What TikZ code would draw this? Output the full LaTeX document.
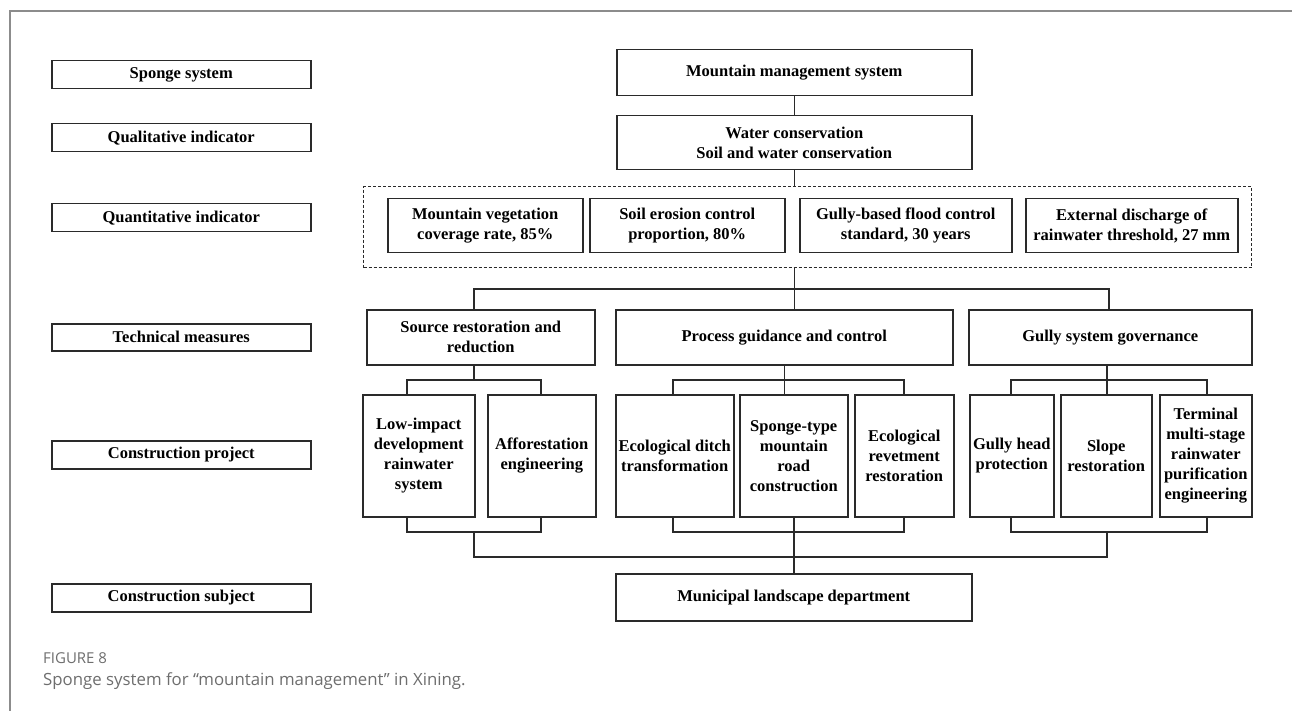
\documentclass[tikz,border=0pt]{standalone}
\usepackage{fontspec}
\setmainfont{Liberation Serif}
\newfontfamily\capfont{Open Sans}
\definecolor{linecol}{HTML}{2A2A2A}
\definecolor{framecol}{HTML}{8C8C8C}
\definecolor{capcol}{HTML}{6E6E6E}
\tikzset{
  box/.style={draw=linecol, line width=1.5pt, rectangle, inner sep=0pt, align=center,
    font=\fontsize{16.5}{20}\selectfont\bfseries, text=black},
  conn/.style={draw=linecol, line width=1.5pt},
  dashbox/.style={draw=linecol, line width=1.3pt, dash pattern=on 3pt off 2pt}
}
\newcommand{\mybox}[6]{\node[box,anchor=north west,minimum width={(#4-#2)*1pt},minimum height={(#5-#3)*1pt}] (#1) at (#2,#3) {#6};}
\begin{document}
\begin{tikzpicture}[x=1pt,y=-1pt]
\useasboundingbox (0,0) rectangle (1292,711);
\fill[white] (0,0) rectangle (1292,711);
% frame
\draw[framecol, line width=1.5pt] (10,711) -- (10,11) -- (1292,11);

% left labels
\mybox{L1}{51}{60}{310}{88}{Sponge system}
\mybox{L2}{51}{123}{310}{151}{Qualitative indicator}
\mybox{L3}{51}{203}{310}{231}{Quantitative indicator}
\mybox{L4}{51}{323}{310}{350}{Technical measures}
\mybox{L5}{51}{440}{310}{468}{Construction project}
\mybox{L6}{51}{583}{310}{611}{Construction subject}

% top
\mybox{mms}{616}{49}{971}{95}{Mountain management system}
\mybox{water}{616}{115}{971}{169}{Water conservation\\Soil and water conservation}

% quantitative indicators
\node[dashbox, rectangle, anchor=north west, minimum width=888pt, minimum height=81pt, inner sep=0pt] (qbox) at (363,186) {};
\mybox{q1}{387}{198}{582}{252}{Mountain vegetation\\coverage rate, 85\%}
\mybox{q2}{589}{198}{784}{252}{Soil erosion control\\proportion, 80\%}
\mybox{q3}{799}{198}{1011}{252}{Gully-based flood control\\standard, 30 years}
\mybox{q4}{1025}{198}{1237}{252}{External discharge of\\rainwater threshold, 27 mm}

% technical measures
\mybox{t1}{366}{309}{594}{364}{Source restoration and\\reduction}
\mybox{t2}{615}{309}{952}{364}{Process guidance and control}
\mybox{t3}{968}{309}{1251}{364}{Gully system governance}

% construction projects
\mybox{c1}{362}{394}{474}{516}{Low-impact\\development\\rainwater\\system}
\mybox{c2}{487}{394}{595}{516}{Afforestation\\engineering}
\mybox{c3}{615}{394}{733}{516}{Ecological ditch\\transformation}
\mybox{c4}{739}{394}{847}{516}{Sponge-type\\mountain\\road\\construction}
\mybox{c5}{854}{394}{953}{516}{Ecological\\revetment\\restoration}
\mybox{c6}{969}{394}{1053}{516}{Gully head\\protection}
\mybox{c7}{1060}{394}{1151}{516}{Slope\\restoration}
\mybox{c8}{1159}{394}{1251}{516}{Terminal\\multi-stage\\rainwater\\purification\\engineering}

% construction subject
\mybox{mun}{615}{573}{971}{620}{Municipal landscape department}

% coordinates
\coordinate (tl) at (474,289);
\coordinate (tm) at (793.5,289);
\coordinate (tr) at (1109,289);
\coordinate (sa) at (407,380);
\coordinate (sb) at (541,380);
\coordinate (pa) at (673,380);
\coordinate (pb) at (904,380);
\coordinate (ga) at (1011,380);
\coordinate (gb) at (1207,380);
\coordinate (ba) at (407,532);
\coordinate (bb) at (541,532);
\coordinate (bc) at (673,532);
\coordinate (bd) at (904,532);
\coordinate (be) at (1011,532);
\coordinate (bf) at (1207,532);
\coordinate (hl) at (474,557);
\coordinate (hr) at (1107,557);

% connectors
\draw[conn] (mms.south) -- (water.north);
\draw[conn] (water.south) -- (water.south |- qbox.north);
\draw[conn] (qbox.south -| water.south) -- (t2.north -| water.south);
\draw[conn] (tl |- t1.north) -- (tl) -- (tr) -- (tr |- t3.north);

\draw[conn] (t1.south -| tl) -- (tl |- sa);
\draw[conn] (sa |- c1.north) -- (sa) -- (sb) -- (sb |- c2.north);
\draw[conn] (t2.south) -- (c4.north -| t2.south);
\draw[conn] (pa |- c3.north) -- (pa) -- (pb) -- (pb |- c5.north);
\draw[conn] (t3.south -| hr) -- (c7.north -| hr);
\draw[conn] (ga |- c6.north) -- (ga) -- (gb) -- (gb |- c8.north);

\draw[conn] (ba |- c1.south) -- (ba) -- (bb) -- (bb |- c2.south);
\draw[conn] (bc |- c3.south) -- (bc) -- (bd) -- (bd |- c5.south);
\draw[conn] (be |- c6.south) -- (be) -- (bf) -- (bf |- c8.south);
\draw[conn] (hl |- ba) -- (hl) -- (hr) -- (hr |- be);
\draw[conn] (c4.south -| mun.north) -- (mun.north);

% caption
\node[anchor=base west, inner sep=0pt, text=capcol, font=\capfont\fontsize{15}{17}\selectfont] (figno) at (43,663) {FIGURE 8};
\node[anchor=base west, inner sep=0pt, text=capcol, font=\capfont\fontsize{16.8}{20}\selectfont] (figcap) at (43,685) {Sponge system for “mountain management” in Xining.};
\end{tikzpicture}
\end{document}
